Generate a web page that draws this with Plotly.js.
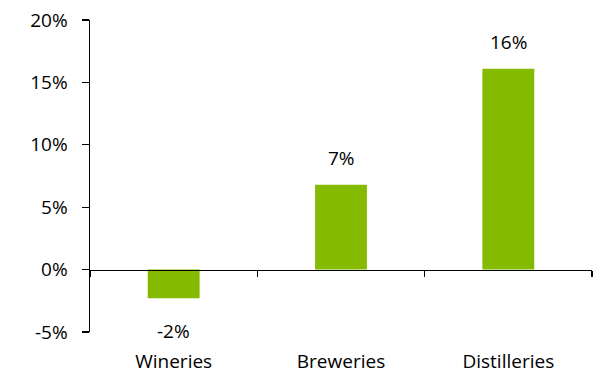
<!DOCTYPE html>
<html><head><meta charset="utf-8">
<script src="https://cdn.plot.ly/plotly-3.0.1.min.js"></script>
<style>html,body{margin:0;padding:0;background:#fff}#chart{width:611px;height:375px}</style>
</head><body><div id="chart"></div>
<script>
const categories = ["Wineries", "Breweries", "Distilleries"];
const growthPct = [-2.3, 6.8, 16.1];
const yTickVals = [-5, 0, 5, 10, 15, 20];

const barColor = "#84BB00";
const fontFam = "Open Sans, Liberation Sans, sans-serif";
const fsz = 19;

const traces = [
  {
    type: "bar", x: categories, y: growthPct,
    marker: {color: barColor}, width: 0.31,
    hoverinfo: "skip", xaxis: "x", yaxis: "y"
  },
  {
    type: "scatter", mode: "lines", x: categories, y: [0, 0, 0],
    xaxis: "x2", yaxis: "y", line: {width: 0}, hoverinfo: "skip", showlegend: false
  }
];

const annotations = categories.map((c, i) => ({
  x: c, y: growthPct[i], xref: "x", yref: "y",
  text: Math.round(growthPct[i]) + "%",
  showarrow: false,
  yanchor: growthPct[i] >= 0 ? "bottom" : "top",
  yshift: growthPct[i] >= 0 ? 12 : -18,
  font: {family: fontFam, size: fsz, color: "#000"}
}));

const layout = {
  width: 611, height: 375,
  margin: {l: 90, r: 19, t: 20, b: 43},
  paper_bgcolor: "#fff", plot_bgcolor: "#fff",
  showlegend: false,
  font: {family: fontFam, size: fsz, color: "#000"},
  xaxis: {
    type: "category", range: [-0.5, 2.5],
    showline: false, ticks: "", showgrid: false, zeroline: false,
    tickfont: {family: fontFam, size: fsz, color: "#000"},
    ticklabelstandoff: 16,
    anchor: "y", side: "bottom"
  },
  xaxis2: {
    type: "category", range: [-0.5, 2.5], overlaying: "x",
    anchor: "free", position: 0.2, side: "bottom",
    showline: true, linecolor: "#000", linewidth: 1.5,
    ticks: "outside", tickson: "boundaries", ticklen: 6, tickcolor: "#000", tickwidth: 1.3,
    showticklabels: false, showgrid: false, zeroline: false
  },
  yaxis: {
    range: [-5, 20], tickvals: yTickVals, ticktext: yTickVals.map(v => v + "%"),
    showline: true, linecolor: "#000", linewidth: 1.5,
    ticks: "outside", ticklen: 7, tickcolor: "#000", tickwidth: 1.3,
    showgrid: false, zeroline: false,
    ticklabelstandoff: 10,
    tickfont: {family: fontFam, size: fsz, color: "#000"}
  },
  annotations: annotations
};

Plotly.newPlot("chart", traces, layout, {staticPlot: true});
</script></body></html>
